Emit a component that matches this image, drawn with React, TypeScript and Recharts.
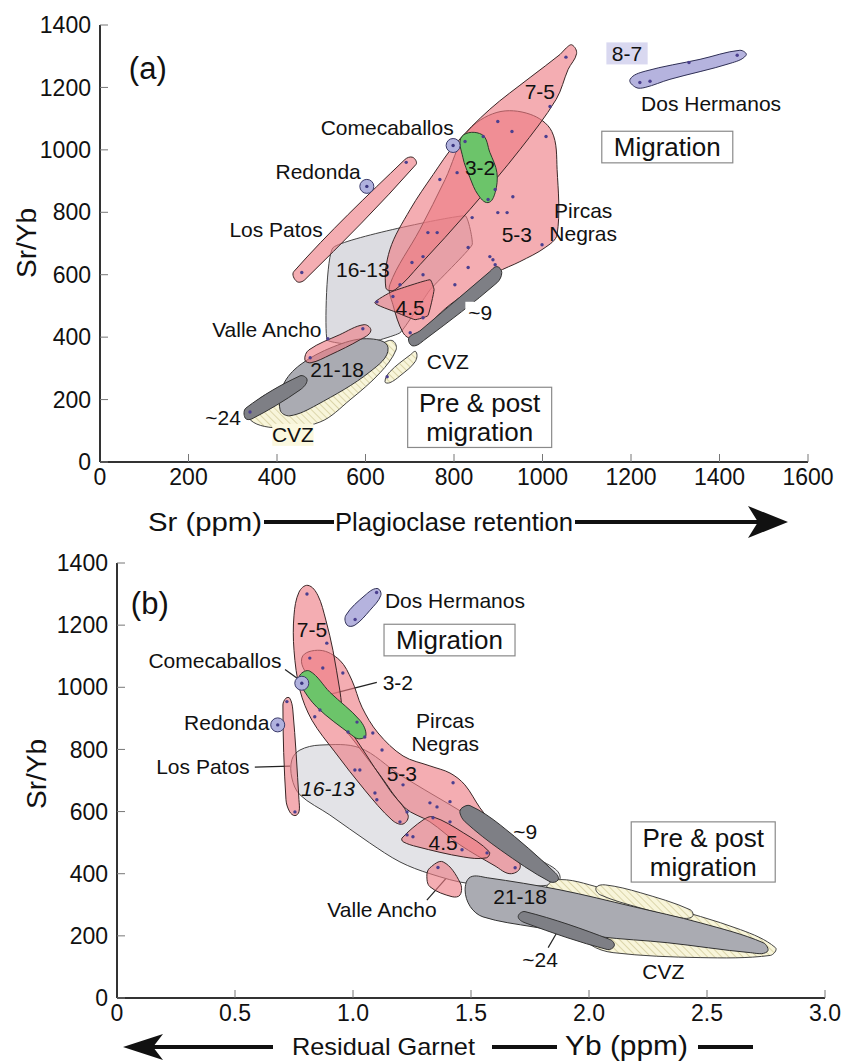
import React from 'react'
import { ScatterChart, Scatter, XAxis, YAxis, ReferenceLine } from 'recharts'

type P = [number, number]

const FONT = '"Liberation Sans", Arial, sans-serif'

// ---------- shared ----------
const Y_TICKS = [0, 200, 400, 600, 800, 1000, 1200, 1400]

// ---------- panel (a): Sr (ppm) vs Sr/Yb ----------
const A_X_TICKS = [0, 200, 400, 600, 800, 1000, 1200, 1400, 1600]

const A_1613: P[] = [[527, 687], [825, 789], [841, 696], [746, 552], [678, 414], [588, 375], [513, 392]]
const A_CVZ: P[] = [[334, 144], [357, 199], [407, 237], [520, 311], [640, 382], [662, 388], [669, 359], [633, 286], [565, 199], [497, 128], [400, 109]]
const A_2118: P[] = [[407, 167], [414, 247], [452, 311], [527, 369], [603, 395], [651, 366], [610, 289], [490, 183], [429, 148]]
const A_24: P[] = [[328, 141], [330, 173], [452, 276], [468, 263], [452, 231], [343, 138]]
const A_VALLE: P[] = [[463, 327], [472, 359], [542, 408], [597, 440], [612, 420], [588, 392], [520, 343], [477, 318]]
const A_CVZ2: P[] = [[644, 257], [655, 289], [701, 343], [714, 353], [712, 321], [678, 276], [655, 254]]
const A_LOSPATOS: P[] = [[445, 578], [438, 610], [689, 969], [707, 976], [714, 953], [463, 584]]
const A_53: P[] = [[829, 1056], [897, 1120], [972, 1114], [1021, 1059], [1033, 937], [1033, 729], [1006, 687], [949, 642], [897, 607], [791, 504], [705, 398], [685, 414], [662, 504], [655, 568], [723, 745], [780, 905]]
const A_75: P[] = [[1067, 1336], [1077, 1308], [1058, 1258], [1031, 1162], [949, 1001], [836, 809], [723, 632], [667, 552], [646, 558], [655, 680], [701, 809], [753, 921], [802, 1017], [881, 1130], [972, 1232], [1040, 1306], [1054, 1327]]
const A_45: P[] = [[621, 510], [660, 546], [746, 584], [755, 552], [741, 469], [712, 456], [667, 481]]
const A_9: P[] = [[707, 372], [698, 398], [723, 420], [881, 610], [897, 626], [908, 607], [897, 574], [734, 392]]
const A_32: P[] = [[818, 1043], [863, 1049], [881, 992], [897, 927], [893, 863], [877, 831], [854, 857], [836, 911], [820, 976]]
const A_DOS: P[] = [[1211, 1200], [1198, 1226], [1232, 1252], [1356, 1290], [1446, 1319], [1460, 1303], [1424, 1277], [1288, 1226], [1232, 1200]]

const A_CENTERS: P[] = [[798, 1014], [603, 883]] // Comecaballos, Redonda

const A_DOTS: P[] = [
  [1053, 1297], [1017, 1139], [899, 1091], [931, 1059], [1008, 1043], [866, 1043], [825, 1027], [807, 927],
  [768, 905], [893, 873], [877, 841], [933, 850], [841, 783], [899, 799], [741, 735], [762, 735], [832, 687],
  [881, 658], [705, 639], [730, 658], [832, 623], [888, 648], [893, 632], [730, 600], [678, 568], [802, 568],
  [626, 513], [662, 530], [730, 462], [701, 414], [999, 696], [920, 799], [456, 607], [692, 960], [515, 395],
  [594, 427], [475, 334], [339, 160], [649, 273], [1220, 1216], [1243, 1220], [1331, 1280], [1440, 1303],
]

const A_LABELS = [
  { x: 108, y: 1264, text: '(a)', kind: 'panel' },
  { x: 1191, y: 1309, text: '8-7', kind: 'bgLav' },
  { x: 1381, y: 1149, text: 'Dos Hermanos', kind: 'name' },
  { x: 994, y: 1187, text: '7-5', kind: 'age' },
  { x: 649, y: 1072, text: 'Comecaballos', kind: 'name' },
  { x: 1282, y: 1009, text: 'Migration', kind: 'box' },
  { x: 859, y: 944, text: '3-2', kind: 'age' },
  { x: 493, y: 931, text: 'Redonda', kind: 'name' },
  { x: 1092, y: 770, text: 'Pircas\nNegras', kind: 'name' },
  { x: 942, y: 728, text: '5-3', kind: 'age' },
  { x: 398, y: 745, text: 'Los Patos', kind: 'name' },
  { x: 594, y: 616, text: '16-13', kind: 'age' },
  { x: 701, y: 494, text: '4.5', kind: 'age' },
  { x: 859, y: 478, text: '~9', kind: 'bgWhite' },
  { x: 377, y: 424, text: 'Valle Ancho', kind: 'name' },
  { x: 536, y: 295, text: '21-18', kind: 'age' },
  { x: 786, y: 321, text: 'CVZ', kind: 'name' },
  { x: 858, y: 143, text: 'Pre & post\nmigration', kind: 'box' },
  { x: 278, y: 144, text: '~24', kind: 'age' },
  { x: 436, y: 87, text: 'CVZ', kind: 'bgYellow' },
]

// ---------- panel (b): Yb (ppm) vs Sr/Yb ----------
const B_X_TICKS = [0, 0.5, 1.0, 1.5, 2.0, 2.5, 3.0]

const B_1613: P[] = [[0.741, 767], [0.775, 798], [0.86, 814], [1.029, 805], [1.199, 718], [1.411, 622], [1.623, 525], [1.793, 445], [1.878, 387], [1.793, 361], [1.496, 368], [1.326, 400], [1.199, 438], [1.071, 499], [0.902, 589], [0.775, 654], [0.741, 708]]
const B_CVZ: P[] = [[1.857, 380], [2.048, 355], [2.302, 300], [2.642, 220], [2.79, 162], [2.768, 137], [2.471, 130], [2.102, 146], [2.005, 172], [1.899, 252], [1.814, 332]]
const B_CVZ2: P[] = [[2.03, 355], [2.069, 364], [2.217, 339], [2.429, 284], [2.438, 262], [2.387, 258], [2.217, 290], [2.048, 332]]
const B_2118: P[] = [[1.497, 389], [1.569, 387], [1.877, 348], [2.187, 294], [2.471, 242], [2.738, 178], [2.755, 149], [2.683, 146], [2.331, 178], [2.047, 197], [1.763, 229], [1.551, 261], [1.497, 294], [1.475, 348]]
const B_24: P[] = [[1.7, 262], [1.729, 278], [2.09, 188], [2.107, 168], [2.077, 156], [1.729, 242]]
const B_53: P[] = [[0.783, 1094], [0.86, 1119], [0.944, 1087], [0.995, 1023], [1.038, 936], [1.106, 853], [1.212, 779], [1.326, 747], [1.411, 724], [1.474, 686], [1.538, 612], [1.61, 541], [1.686, 461], [1.708, 419], [1.665, 400], [1.602, 425], [1.453, 493], [1.326, 567], [1.22, 612], [1.114, 718], [1.008, 824], [0.902, 927], [0.826, 1017]]
const B_75: P[] = [[0.809, 1328], [0.851, 1296], [0.885, 1216], [0.915, 1119], [0.944, 991], [0.966, 894], [1.029, 814], [1.156, 669], [1.233, 589], [1.212, 560], [1.165, 573], [1.05, 669], [0.923, 792], [0.826, 894], [0.775, 991], [0.75, 1119], [0.75, 1232], [0.771, 1306]]
const B_45: P[] = [[1.208, 515], [1.297, 573], [1.339, 583], [1.467, 532], [1.577, 471], [1.565, 451], [1.467, 454], [1.271, 487], [1.212, 503]]
const B_9: P[] = [[1.462, 612], [1.496, 619], [1.624, 557], [1.857, 403], [1.869, 380], [1.835, 374], [1.624, 477], [1.475, 567], [1.453, 596]]
const B_VALLE: P[] = [[1.326, 419], [1.382, 438], [1.454, 371], [1.454, 332], [1.42, 326], [1.326, 358], [1.313, 396]]
const B_LOSPATOS: P[] = [[0.703, 943], [0.716, 965], [0.732, 965], [0.745, 927], [0.771, 638], [0.771, 599], [0.754, 587], [0.732, 599], [0.716, 638]]
const B_32: P[] = [[0.775, 1039], [0.817, 1052], [0.902, 984], [1.029, 894], [1.055, 846], [1.025, 834], [0.995, 846], [0.847, 936], [0.779, 1007]]
const B_DOS: P[] = [[0.975, 1200], [0.97, 1232], [1.051, 1296], [1.102, 1318], [1.118, 1296], [1.072, 1248], [1.008, 1200]]

const B_CENTERS: P[] = [[0.783, 1013], [0.681, 879]]

const B_DOTS: P[] = [
  [0.805, 1300], [0.889, 1142], [0.817, 1094], [0.872, 1062], [0.957, 1046], [0.86, 927], [0.838, 905],
  [1.084, 853], [1.05, 840], [1.123, 798], [1.008, 734], [1.029, 734], [1.212, 686], [1.093, 660],
  [1.101, 638], [1.199, 567], [1.326, 628], [1.356, 615], [1.411, 632], [1.424, 693], [1.229, 599],
  [1.339, 580], [1.411, 567], [1.229, 525], [1.254, 519], [1.462, 477], [1.568, 467], [1.687, 419],
  [1.017, 888], [0.979, 856], [0.72, 954], [0.754, 599], [1.009, 1218], [1.1, 1305], [1.36, 420],
]

const B_LABELS = [
  { x: 0.139, y: 1271, text: '(b)', kind: 'panel' },
  { x: 1.432, y: 1280, text: 'Dos Hermanos', kind: 'name' },
  { x: 0.826, y: 1187, text: '7-5', kind: 'age' },
  { x: 1.409, y: 1152, text: 'Migration', kind: 'box' },
  { x: 0.415, y: 1087, text: 'Comecaballos', kind: 'name' },
  { x: 1.19, y: 1014, text: '3-2', kind: 'age' },
  { x: 0.465, y: 888, text: 'Redonda', kind: 'name' },
  { x: 1.391, y: 856, text: 'Pircas\nNegras', kind: 'name' },
  { x: 1.207, y: 724, text: '5-3', kind: 'age' },
  { x: 0.364, y: 744, text: 'Los Patos', kind: 'name' },
  { x: 0.894, y: 675, text: '16-13', kind: 'ageItalic' },
  { x: 1.73, y: 535, text: '~9', kind: 'age' },
  { x: 2.484, y: 470, text: 'Pre & post\nmigration', kind: 'box' },
  { x: 1.382, y: 500, text: '4.5', kind: 'age' },
  { x: 1.708, y: 326, text: '21-18', kind: 'age' },
  { x: 1.123, y: 284, text: 'Valle Ancho', kind: 'name' },
  { x: 1.793, y: 123, text: '~24', kind: 'age' },
  { x: 2.315, y: 85, text: 'CVZ', kind: 'name' },
]

// leader lines in panel (b): [from, to]
const B_LEADERS: [P, P][] = [
  [[0.712, 1057], [0.775, 1023]],
  [[1.101, 1016], [0.889, 975]],
  [[0.584, 743], [0.733, 746]],
  [[1.313, 315], [1.398, 388]],
  [[1.866, 213], [1.827, 162]],
]

// ---------- styles ----------
const FIELD_STYLE: Record<string, any> = {
  light: { fill: '#dcdce1', fillOpacity: 1, stroke: '#444', smooth: 0.3 },
  lightB: { fill: '#e3e3e7', fillOpacity: 1, stroke: '#444', smooth: 1 },
  cvz: { fill: 'url(#hatch)', fillOpacity: 1, stroke: '#444', smooth: 1 },
  mid: { fill: '#aaabb2', fillOpacity: 1, stroke: '#333', smooth: 1 },
  dark: { fill: '#7e7f85', fillOpacity: 1, stroke: '#333', smooth: 1 },
  pink: { fill: '#ee7a83', fillOpacity: 0.62, stroke: '#3a2626', smooth: 1 },
  pinkPoly: { fill: '#ee7a83', fillOpacity: 0.62, stroke: '#3a2626', smooth: 0.3 },
  green: { fill: '#6cc46a', fillOpacity: 1, stroke: '#2c3a2c', smooth: 1 },
  lav: { fill: '#b5b3de', fillOpacity: 1, stroke: '#2f2f55', smooth: 1 },
}

const A_FIELDS = [
  { pts: A_1613, kind: 'light' },
  { pts: A_CVZ, kind: 'cvz' },
  { pts: A_2118, kind: 'mid' },
  { pts: A_24, kind: 'dark' },
  { pts: A_VALLE, kind: 'pink' },
  { pts: A_CVZ2, kind: 'cvz' },
  { pts: A_LOSPATOS, kind: 'pink' },
  { pts: A_53, kind: 'pink' },
  { pts: A_75, kind: 'pink' },
  { pts: A_45, kind: 'pinkPoly' },
  { pts: A_9, kind: 'dark' },
  { pts: A_32, kind: 'green' },
  { pts: A_DOS, kind: 'lav' },
]

const B_FIELDS = [
  { pts: B_1613, kind: 'lightB' },
  { pts: B_CVZ, kind: 'cvz' },
  { pts: B_CVZ2, kind: 'cvz' },
  { pts: B_2118, kind: 'mid' },
  { pts: B_24, kind: 'dark' },
  { pts: B_53, kind: 'pink' },
  { pts: B_75, kind: 'pink' },
  { pts: B_45, kind: 'pink' },
  { pts: B_9, kind: 'dark' },
  { pts: B_VALLE, kind: 'pink' },
  { pts: B_LOSPATOS, kind: 'pink' },
  { pts: B_32, kind: 'green' },
  { pts: B_DOS, kind: 'lav' },
]

const LABEL_KIND: Record<string, any> = {
  panel: { fontSize: 31 },
  name: { fontSize: 21 },
  age: { fontSize: 21 },
  ageItalic: { fontSize: 21, italic: true },
  box: { fontSize: 26, box: true },
  bgLav: { fontSize: 21, bg: '#d9d8f0' },
  bgWhite: { fontSize: 21, bg: '#ffffff' },
  bgYellow: { fontSize: 21, bg: '#fbf8df' },
}

// closed spline through the scaled points; tangents scaled by segment length so short ends don't overshoot
function closedPath(pts: { x: number; y: number }[], t: number) {
  const n = pts.length
  if (!n) return ''
  const unit = (a: { x: number; y: number }, b: { x: number; y: number }) => {
    const dx = b.x - a.x
    const dy = b.y - a.y
    const l = Math.hypot(dx, dy) || 1
    return { x: dx / l, y: dy / l }
  }
  let d = `M${pts[0].x},${pts[0].y}`
  for (let i = 0; i < n; i++) {
    const p0 = pts[(i - 1 + n) % n]
    const p1 = pts[i]
    const p2 = pts[(i + 1) % n]
    const p3 = pts[(i + 2) % n]
    const L = Math.hypot(p2.x - p1.x, p2.y - p1.y) * (t / 3)
    const d1 = unit(p0, p2)
    const d2 = unit(p1, p3)
    d += `C${p1.x + d1.x * L},${p1.y + d1.y * L} ${p2.x - d2.x * L},${p2.y - d2.y * L} ${p2.x},${p2.y}`
  }
  return d + 'Z'
}

const toXY = (pts: P[]) => pts.map(([x, y]) => ({ x, y }))

const fieldLine = (kind: string) => (props: any) => {
  const st = FIELD_STYLE[kind]
  return (
    <path
      d={closedPath(props.points || [], st.smooth)}
      fill={st.fill}
      fillOpacity={st.fillOpacity}
      stroke={st.stroke}
      strokeWidth={1}
    />
  )
}

const noShape = () => <g />

const dotShape = (p: any) => <circle cx={p.cx} cy={p.cy} r={1.7} fill="#4b3f8f" />

const centerShape = (p: any) => (
  <g>
    <circle cx={p.cx} cy={p.cy} r={7} fill="#b0b1de" stroke="#3a3a6a" strokeWidth={1} />
    <circle cx={p.cx} cy={p.cy} r={1.7} fill="#3b3580" />
  </g>
)

const labelShape = (p: any) => {
  const { cx, cy, payload } = p
  const st = LABEL_KIND[payload.kind]
  const fs = st.fontSize
  const lines: string[] = payload.text.split('\n')
  const lh = fs * 1.1
  const maxChars = Math.max(...lines.map((l) => l.length))
  let rect = null
  if (st.box) {
    const w = maxChars * fs * 0.5 + 14
    const h = lines.length * lh + 3
    rect = <rect x={cx - w / 2} y={cy - h / 2} width={w} height={h} fill="#fff" stroke="#8a8a8a" strokeWidth={1.2} />
  } else if (st.bg) {
    const w = maxChars * fs * 0.56 + 6
    const h = fs * 1.05
    rect = <rect x={cx - w / 2} y={cy - h / 2} width={w} height={h} fill={st.bg} />
  }
  return (
    <g>
      {rect}
      <text textAnchor="middle" fontSize={fs} fontFamily={FONT} fontStyle={st.italic ? 'italic' : 'normal'} fill="#111">
        {lines.map((l, i) => (
          <tspan key={i} x={cx} y={cy + (i - (lines.length - 1) / 2) * lh + fs * 0.36}>
            {l}
          </tspan>
        ))}
      </text>
    </g>
  )
}

const emptyTick = () => <g />

const tickStyle = { fill: '#111', fontSize: 23, fontFamily: FONT }

function Panel(props: {
  fields: { pts: P[]; kind: string }[]
  centers: P[]
  dots: P[]
  labels: { x: number; y: number; text: string; kind: string }[]
  leaders: [P, P][]
  xTicks: number[]
  xDomain: [number, number]
  xFmt: (v: number) => string
  margin: { top: number; right: number; bottom: number; left: number }
  rightTicks: boolean
}) {
  const { fields, centers, dots, labels, leaders, xTicks, xDomain, xFmt, margin, rightTicks } = props
  return (
    <ScatterChart width={841} height={500} margin={margin}>
      <XAxis
        type="number"
        dataKey="x"
        domain={xDomain}
        ticks={xTicks}
        tickFormatter={xFmt}
        tickSize={-8}
        tickMargin={15}
        height={30}
        tick={tickStyle}
        tickLine={{ stroke: '#777' }}
        axisLine={{ stroke: '#333', strokeWidth: 2 }}
      />
      <XAxis
        xAxisId="top"
        orientation="top"
        type="number"
        dataKey="x"
        domain={xDomain}
        ticks={xTicks}
        tickSize={-8}
        height={0}
        tick={emptyTick}
        tickLine={{ stroke: '#777' }}
        axisLine={{ stroke: '#444', strokeWidth: 1.5 }}
      />
      <YAxis
        type="number"
        dataKey="y"
        domain={[0, 1400]}
        ticks={Y_TICKS}
        tickSize={-8}
        tickMargin={17}
        width={60}
        tick={tickStyle}
        tickLine={{ stroke: '#777' }}
        axisLine={{ stroke: '#333', strokeWidth: 2 }}
      />
      <YAxis
        yAxisId="right"
        orientation="right"
        type="number"
        dataKey="y"
        domain={[0, 1400]}
        ticks={Y_TICKS}
        tickSize={-8}
        width={0}
        tick={emptyTick}
        tickLine={rightTicks ? { stroke: '#777' } : false}
        axisLine={{ stroke: '#444', strokeWidth: 1.5 }}
      />
      {fields.map((f, i) => (
        <Scatter
          key={'f' + i}
          data={toXY(f.pts)}
          line={fieldLine(f.kind)}
          shape={noShape}
          isAnimationActive={false}
        />
      ))}
      <Scatter data={toXY(dots)} shape={dotShape} isAnimationActive={false} />
      <Scatter data={toXY(centers)} shape={centerShape} isAnimationActive={false} />
      {leaders.map((s, i) => (
        <ReferenceLine
          key={'l' + i}
          segment={[{ x: s[0][0], y: s[0][1] }, { x: s[1][0], y: s[1][1] }]}
          stroke="#222"
          strokeWidth={1.2}
        />
      ))}
      <Scatter data={labels} shape={labelShape} isAnimationActive={false} />
    </ScatterChart>
  )
}

export default function App() {
  return (
    <div style={{ position: 'absolute', left: 0, top: 0, width: 841, height: 1063, background: '#fff', fontFamily: FONT }}>
      <svg width={0} height={0} style={{ position: 'absolute' }}>
        <defs>
          <pattern id="hatch" patternUnits="userSpaceOnUse" width={5} height={5} patternTransform="rotate(-45)">
            <rect width={5} height={5} fill="#f8f5da" />
            <line x1={0} y1={0} x2={0} y2={5} stroke="#cfc795" strokeWidth={1.4} />
          </pattern>
        </defs>
      </svg>
      <div style={{ position: 'absolute', left: 0, top: 0 }}>
        <Panel
          fields={A_FIELDS}
          centers={A_CENTERS}
          dots={A_DOTS}
          labels={A_LABELS}
          leaders={[]}
          xTicks={A_X_TICKS}
          xDomain={[0, 1600]}
          xFmt={(v) => String(v)}
          margin={{ top: 25, right: 33, bottom: 8, left: 40 }}
          rightTicks={false}
        />
      </div>
      <div style={{ position: 'absolute', left: 0, top: 540 }}>
        <Panel
          fields={B_FIELDS}
          centers={B_CENTERS}
          dots={B_DOTS}
          labels={B_LABELS}
          leaders={B_LEADERS}
          xTicks={B_X_TICKS}
          xDomain={[0, 3]}
          xFmt={(v) => (v === 0 ? '0' : v.toFixed(1))}
          margin={{ top: 23, right: 16, bottom: 12, left: 57 }}
          rightTicks={true}
        />
      </div>
      <svg width={841} height={1063} style={{ position: 'absolute', left: 0, top: 0, pointerEvents: 'none' }}>
        <g fontFamily={FONT} fill="#111">
          <text transform="translate(26,243) rotate(-90)" textAnchor="middle" dominantBaseline="central" fontSize={28}>
            Sr/Yb
          </text>
          <text transform="translate(36,774) rotate(-90)" textAnchor="middle" dominantBaseline="central" fontSize={28}>
            Sr/Yb
          </text>
          {/* (a) x axis title */}
          <text x={148} y={531} fontSize={25} textLength={114} lengthAdjust="spacingAndGlyphs">
            Sr (ppm)
          </text>
          <line x1={264} y1={522} x2={334} y2={522} stroke="#111" strokeWidth={4} />
          <text x={335} y={531} fontSize={25} textLength={238} lengthAdjust="spacingAndGlyphs">
            Plagioclase retention
          </text>
          <line x1={575} y1={522} x2={760} y2={522} stroke="#111" strokeWidth={4} />
          <polygon points="788,522 748,506 758,522 748,538" fill="#111" />
          {/* (b) x axis title */}
          <polygon points="123,1047 163,1034 153,1047 163,1060" fill="#111" />
          <line x1={150} y1={1047} x2={273} y2={1047} stroke="#111" strokeWidth={4} />
          <text x={292} y={1055} fontSize={24} textLength={183} lengthAdjust="spacingAndGlyphs">
            Residual Garnet
          </text>
          <line x1={492} y1={1047} x2={557} y2={1047} stroke="#111" strokeWidth={4} />
          <text x={565} y={1055} fontSize={28} textLength={123} lengthAdjust="spacingAndGlyphs">
            Yb (ppm)
          </text>
          <line x1={698} y1={1047} x2={753} y2={1047} stroke="#111" strokeWidth={4} />
        </g>
      </svg>
    </div>
  )
}
